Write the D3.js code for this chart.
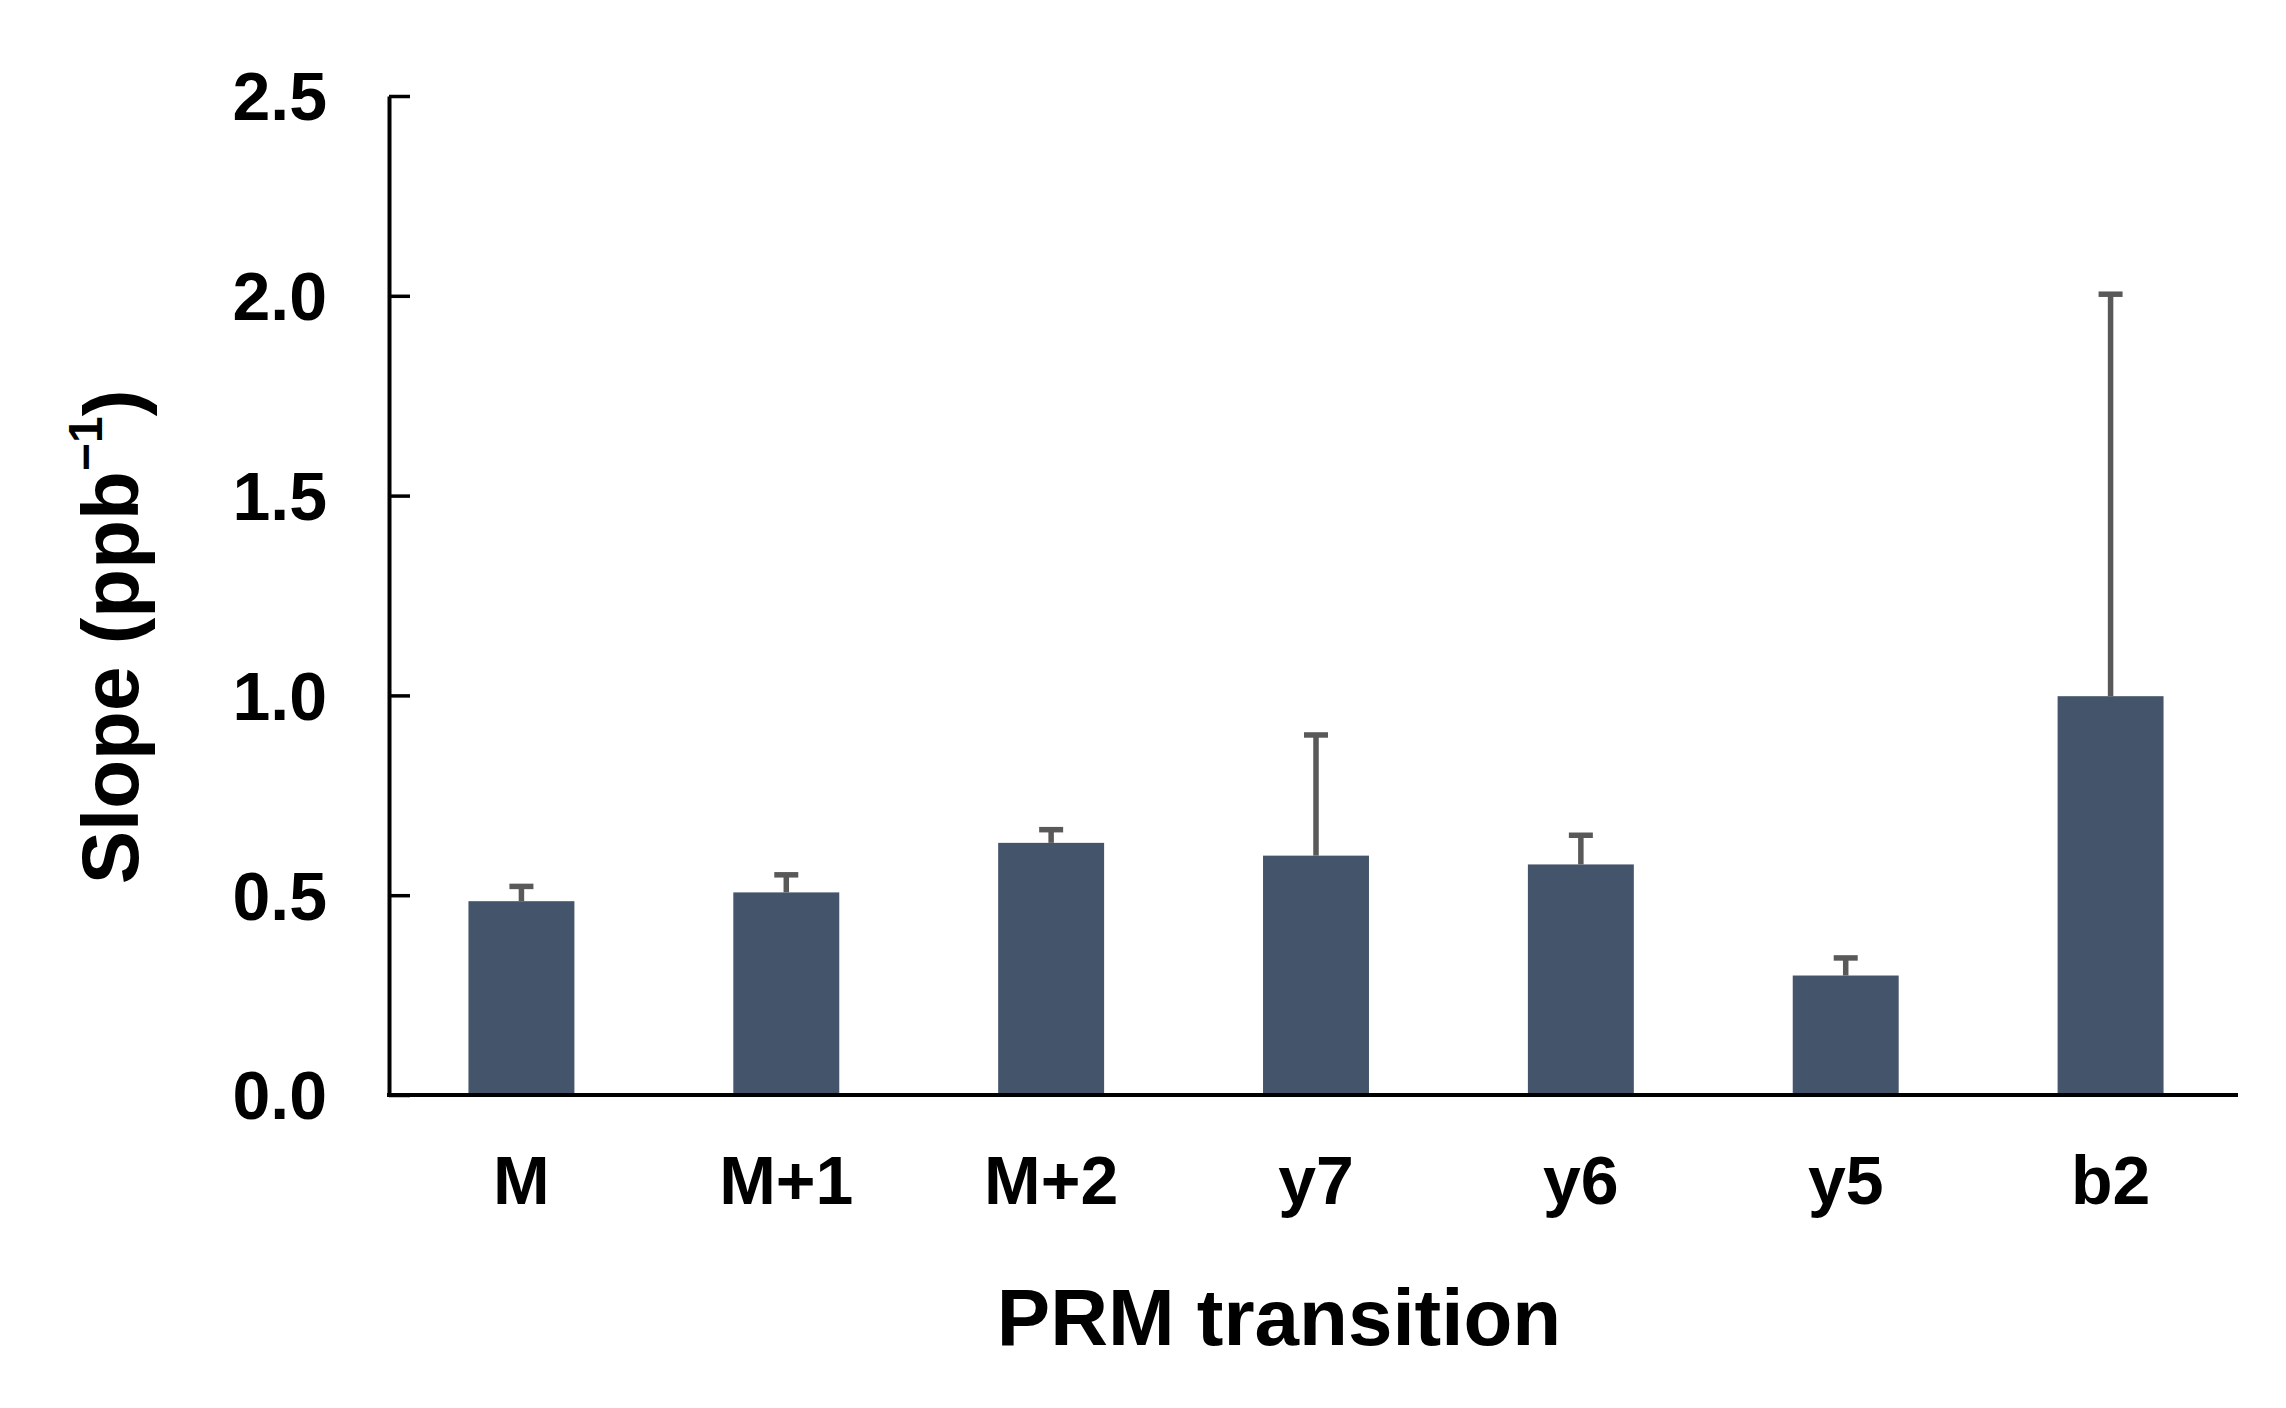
<!DOCTYPE html>
<html>
<head>
<meta charset="utf-8">
<script src="https://cdnjs.cloudflare.com/ajax/libs/d3/7.8.5/d3.min.js"></script>
<style>
    body { margin: 0; background: #fff; }
    svg { display: block; }
    text { font-family: "Liberation Sans", Arial, sans-serif; font-weight: bold; fill: #000; }
</style>
</head>
<body>
<svg id="chart" width="2286" height="1408"></svg>
<script>
var categories = ["M", "M+1", "M+2", "y7", "y6", "y5", "b2"];
var slopes = [0.485, 0.507, 0.631, 0.599, 0.577, 0.299, 0.998];
var errors = [0.037, 0.044, 0.033, 0.302, 0.073, 0.044, 1.006];
var y_ticks = [0, 0.5, 1.0, 1.5, 2.0, 2.5];

var bar_color = "#44546A";
var err_color = "#595959";

draw_chart();

function draw_chart() {
    var svg = d3.select("#chart");

    var left = 389, right = 2238, top = 96, bottom = 1095;

    // bands run a touch past the end of the axis line
    var x = d3.scaleBand()
        .domain(categories)
        .range([left, 2243])
        .paddingInner(0.6)
        .paddingOuter(0.3);

    var y = d3.scaleLinear()
        .domain([0, 2.5])
        .range([bottom, top]);

    var data = categories.map(function(c, i) {
        return { name: c, value: slopes[i], err: errors[i] };
    });

    // bars
    svg.append("g")
        .selectAll("rect")
        .data(data)
        .enter().append("rect")
        .attr("x", function(d) { return x(d.name); })
        .attr("y", function(d) { return y(d.value); })
        .attr("width", x.bandwidth())
        .attr("height", function(d) { return bottom - y(d.value); })
        .style("fill", bar_color);

    // error bars, upper side only
    var err = svg.append("g")
        .selectAll("g")
        .data(data)
        .enter().append("g")
        .attr("transform", function(d) { return "translate(" + (x(d.name) + x.bandwidth() / 2) + ",0)"; });

    err.append("line")
        .attr("x1", 0).attr("x2", 0)
        .attr("y1", function(d) { return y(d.value); })
        .attr("y2", function(d) { return y(d.value + d.err); })
        .style("stroke", err_color)
        .style("stroke-width", 5.5);

    err.append("line")
        .attr("x1", -12).attr("x2", 12)
        .attr("y1", function(d) { return y(d.value + d.err); })
        .attr("y2", function(d) { return y(d.value + d.err); })
        .style("stroke", err_color)
        .style("stroke-width", 5.5);

    // y axis with inward ticks
    var y_axis = svg.append("g")
        .attr("transform", "translate(" + left + ",0)")
        .call(d3.axisRight(y).tickValues(y_ticks).tickFormat(d3.format(".1f")).tickSize(21).tickSizeOuter(0));

    y_axis.select(".domain").style("stroke", "#000").style("stroke-width", 4);
    y_axis.selectAll(".tick line").style("stroke", "#000").style("stroke-width", 3.5);
    y_axis.selectAll(".tick text")
        .attr("x", -62)
        .attr("dy", "0.35em")
        .attr("text-anchor", "end")
        .style("font-size", "68px")
        .style("font-family", "'Liberation Sans', Arial, sans-serif")
        .style("font-weight", "bold")
        .style("fill", "#000");
    y_axis.attr("font-size", null).attr("font-family", null);

    // x axis, line only
    var x_axis = svg.append("g")
        .attr("transform", "translate(0," + bottom + ")")
        .call(d3.axisBottom(x).tickSize(0).tickSizeOuter(0));

    x_axis.select(".domain").style("stroke", "#000").style("stroke-width", 4)
        .attr("d", "M" + (left - 2) + ",0H" + right);
    x_axis.selectAll(".tick text")
        .attr("y", 109)
        .attr("dy", null)
        .style("font-size", "68px")
        .style("font-family", "'Liberation Sans', Arial, sans-serif")
        .style("font-weight", "bold")
        .style("fill", "#000");
    x_axis.attr("font-size", null).attr("font-family", null);

    // axis titles
    svg.append("text")
        .attr("x", 1279)
        .attr("y", 1345)
        .attr("text-anchor", "middle")
        .style("font-size", "80px")
        .text("PRM transition");

    var y_title = svg.append("text")
        .attr("transform", "translate(138,637) rotate(-90)")
        .attr("text-anchor", "middle")
        .style("font-size", "80px");
    y_title.append("tspan").text("Slope (ppb");
    y_title.append("tspan")
        .attr("dy", "-0.75em")
        .style("font-size", "48px")
        .text("\u22121");
    y_title.append("tspan")
        .attr("dy", "0.47em")
        .text(")");
}
</script>
</body>
</html>
